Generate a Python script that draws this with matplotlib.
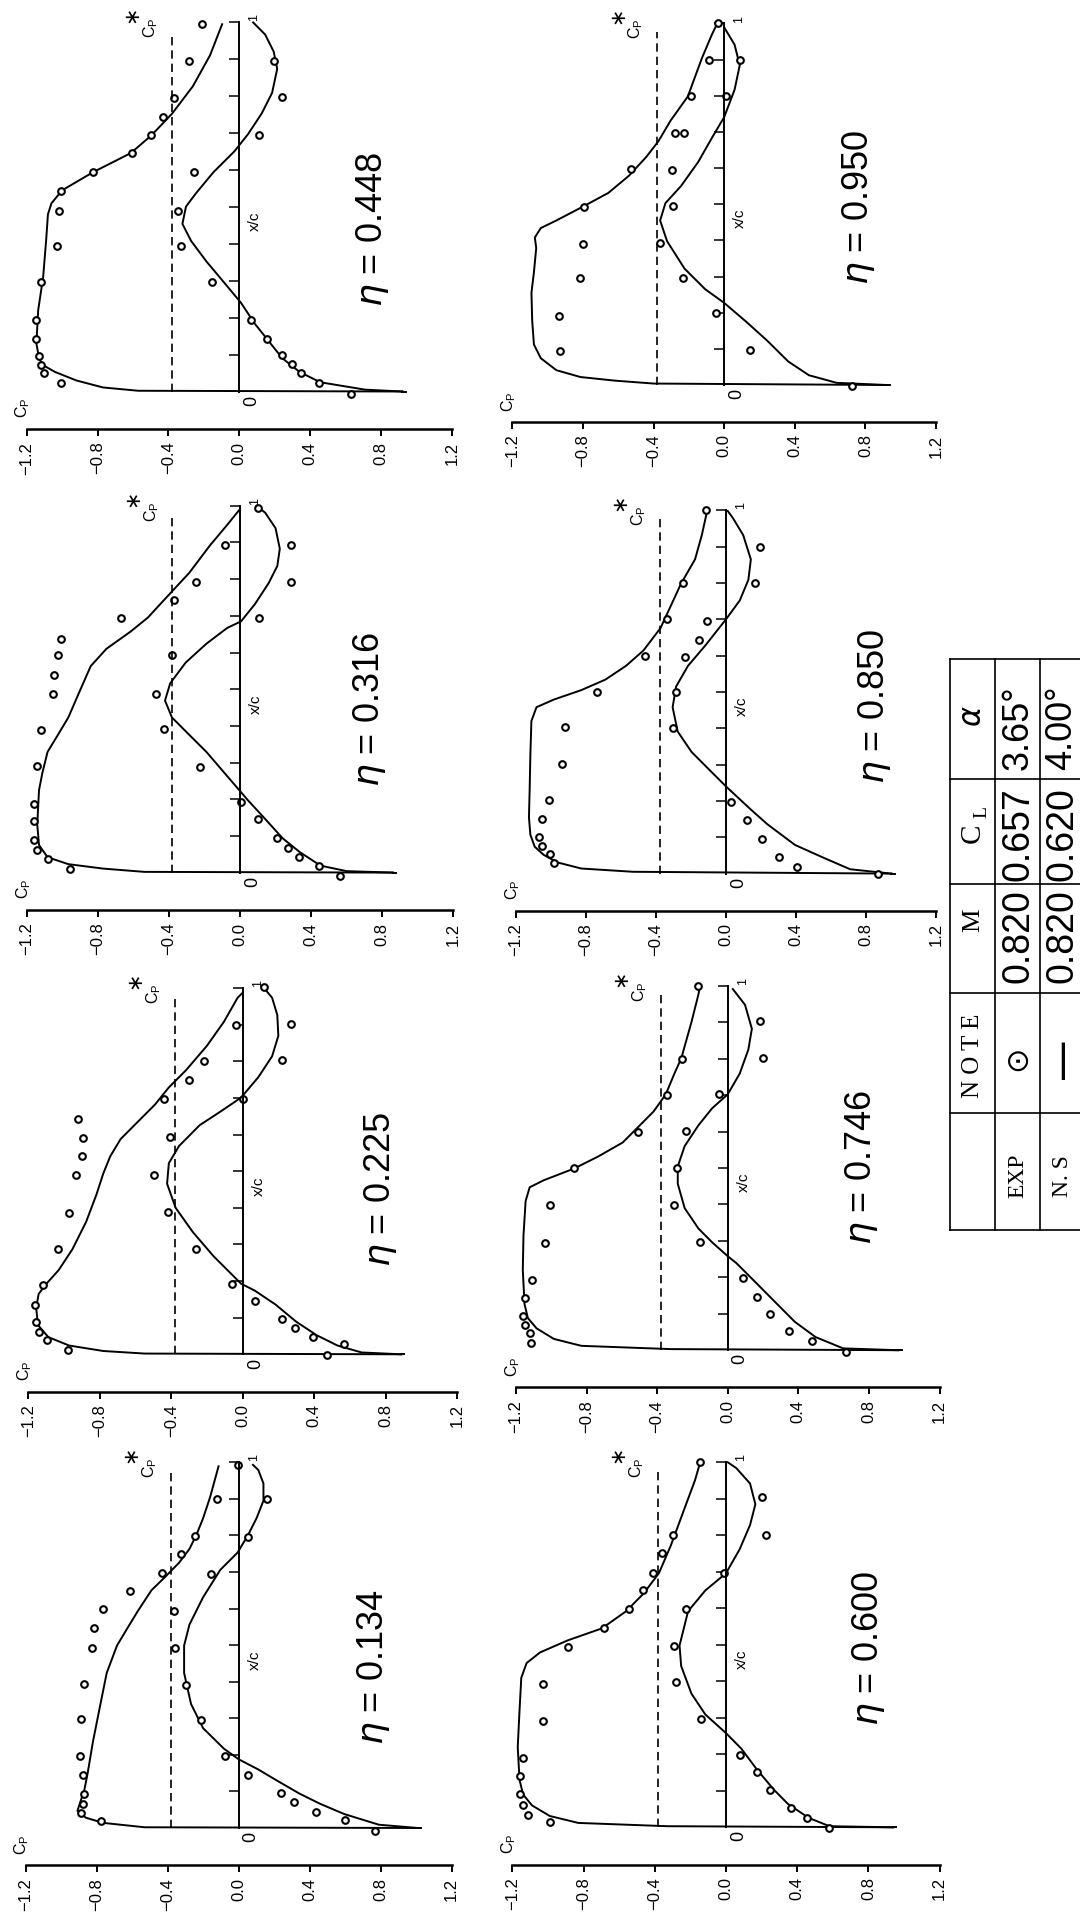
import matplotlib
matplotlib.use("Agg")
import matplotlib.pyplot as plt

plt.rcParams['font.family'] = ['Liberation Sans', 'DejaVu Sans']
plt.rcParams['mathtext.fontset'] = 'dejavusans'

# ---------------------------------------------------------------------------
# data: Cp distributions, x/c (chord fraction) vs Cp, one block per station eta
# u = upper surface curve (N.S), l = lower surface curve, mu / ml = EXP points
# ---------------------------------------------------------------------------
CP_STAR = -0.38
CP_TICKS = [-1.2, -0.8, -0.4, 0.0, 0.4, 0.8, 1.2]
CP_TICKLABELS = ['\u22121.2', '\u22120.8', '\u22120.4', '0.0', '0.4', '0.8', '1.2']
XC_TICKS = [0.1, 0.2, 0.3, 0.4, 0.5, 0.6, 0.7, 0.8, 0.9, 1.0]

# eta = 0.134
u134_xc = [0, 0.002, 0.014, 0.028, 0.047, 0.075, 0.104, 0.151, 0.235, 0.330, 0.424, 0.499, 0.546,
           0.593, 0.650, 0.687, 0.725, 0.763, 0.800, 0.847, 0.904, 0.989]
u134_cp = [1.01, -0.53, -0.763, -0.86, -0.908, -0.889, -0.869, -0.85, -0.821, -0.782, -0.743, -0.685,
           -0.627, -0.568, -0.491, -0.413, -0.336, -0.277, -0.239, -0.2, -0.161, -0.113]
l134_xc = [0, 0.009, 0.038, 0.066, 0.094, 0.132, 0.160, 0.188, 0.217, 0.273, 0.339, 0.424, 0.499,
           0.556, 0.631, 0.706, 0.753, 0.800, 0.847, 0.895, 0.942, 0.979, 0.993]
l134_cp = [1.01, 0.79, 0.596, 0.46, 0.343, 0.208, 0.111, 0.0, -0.083, -0.2, -0.268, -0.307, -0.307,
           -0.277, -0.2, -0.103, -0.006, 0.052, 0.101, 0.14, 0.14, 0.111, 0.081]
mu134_xc = [0.019, 0.042, 0.066, 0.094, 0.146, 0.198, 0.297, 0.395, 0.492, 0.546, 0.598, 0.648,
            0.697, 0.749, 0.798, 0.899, 0.993]
mu134_cp = [-0.776, -0.889, -0.879, -0.869, -0.879, -0.894, -0.889, -0.869, -0.825, -0.817, -0.766,
            -0.611, -0.433, -0.326, -0.248, -0.122, -0.006]
ml134_xc = [-0.009, 0.021, 0.044, 0.071, 0.096, 0.146, 0.196, 0.294, 0.391, 0.492, 0.593, 0.695,
            0.796, 0.899]
ml134_cp = [0.766, 0.601, 0.437, 0.314, 0.237, 0.052, -0.074, -0.21, -0.297, -0.359, -0.365, -0.157,
            0.052, 0.159]

# eta = 0.225
u225_xc = [0, 0.002, 0.009, 0.024, 0.047, 0.080, 0.127, 0.165, 0.193, 0.230, 0.287, 0.362, 0.437,
           0.494, 0.541, 0.588, 0.635, 0.682, 0.729, 0.776, 0.842, 0.908, 0.974, 0.988]
u225_cp = [0.887, -0.549, -0.781, -0.973, -1.089, -1.147, -1.157, -1.143, -1.099, -1.031, -0.954,
           -0.877, -0.819, -0.781, -0.742, -0.684, -0.588, -0.492, -0.414, -0.318, -0.202, -0.106,
           -0.029, 0.0]
l225_xc = [0, 0.005, 0.024, 0.052, 0.089, 0.136, 0.174, 0.193, 0.268, 0.334, 0.400, 0.466, 0.522,
           0.569, 0.626, 0.663, 0.701, 0.757, 0.814, 0.870, 0.927, 0.974, 1.002]
l225_cp = [0.887, 0.665, 0.53, 0.414, 0.299, 0.183, 0.067, -0.01, -0.164, -0.28, -0.376, -0.424,
           -0.414, -0.357, -0.241, -0.125, -0.01, 0.087, 0.164, 0.199, 0.193, 0.164, 0.116]
mu225_xc = [0.011, 0.038, 0.061, 0.087, 0.136, 0.188, 0.287, 0.386, 0.489, 0.541, 0.590, 0.644,
            0.696, 0.748, 0.800, 0.900]
mu225_cp = [-0.977, -1.099, -1.143, -1.157, -1.166, -1.118, -1.035, -0.973, -0.935, -0.9, -0.896,
            -0.92, -0.443, -0.299, -0.218, -0.039]
ml225_xc = [-0.003, 0.028, 0.047, 0.072, 0.096, 0.146, 0.193, 0.287, 0.389, 0.489, 0.593, 0.696,
            0.804, 0.903, 1.002]
ml225_cp = [0.472, 0.569, 0.391, 0.295, 0.218, 0.067, -0.058, -0.264, -0.418, -0.495, -0.405, 0.0,
            0.218, 0.27, 0.116]

# eta = 0.316
u316_xc = [0, 0.002, 0.011, 0.023, 0.042, 0.075, 0.131, 0.225, 0.272, 0.329, 0.376, 0.423, 0.488,
           0.563, 0.610, 0.657, 0.695, 0.746, 0.817, 0.892, 0.948, 0.991]
u316_cp = [0.86, -0.538, -0.772, -0.966, -1.083, -1.131, -1.141, -1.131, -1.112, -1.083, -1.024,
           -0.966, -0.908, -0.84, -0.752, -0.616, -0.519, -0.422, -0.286, -0.169, -0.072, 0.0]
l316_xc = [0, 0.004, 0.019, 0.056, 0.094, 0.146, 0.197, 0.263, 0.329, 0.385, 0.423, 0.469, 0.516,
           0.573, 0.624, 0.667, 0.685, 0.732, 0.789, 0.836, 0.883, 0.939, 0.981, 1.0]
l316_cp = [0.86, 0.6, 0.453, 0.336, 0.239, 0.142, 0.045, -0.072, -0.189, -0.305, -0.383, -0.422,
           -0.393, -0.305, -0.189, -0.072, 0.006, 0.084, 0.161, 0.21, 0.224, 0.2, 0.142, 0.093]
mu316_xc = [0.009, 0.038, 0.061, 0.089, 0.141, 0.188, 0.291, 0.390, 0.488, 0.540, 0.592, 0.638,
            0.693, 0.742, 0.793, 0.894]
mu316_cp = [-0.956, -1.083, -1.145, -1.16, -1.16, -1.16, -1.145, -1.121, -1.053, -1.044, -1.024,
            -1.005, -0.671, -0.373, -0.247, -0.082]
ml316_xc = [-0.009, 0.017, 0.042, 0.066, 0.094, 0.146, 0.192, 0.289, 0.392, 0.488, 0.592, 0.693,
            0.793, 0.894, 0.993]
ml316_cp = [0.56, 0.443, 0.332, 0.268, 0.21, 0.103, 0.006, -0.227, -0.426, -0.47, -0.383, 0.107,
            0.288, 0.288, 0.103]

# eta = 0.448
u448_xc = [0, 0.002, 0.011, 0.030, 0.053, 0.072, 0.090, 0.130, 0.220, 0.310, 0.410, 0.480, 0.510,
           0.545, 0.594, 0.646, 0.694, 0.753, 0.827, 0.911, 0.995]
u448_cp = [0.92, -0.57, -0.77, -0.92, -1.04, -1.11, -1.13, -1.145, -1.135, -1.107, -1.09, -1.08,
           -1.06, -1.0, -0.826, -0.612, -0.496, -0.379, -0.262, -0.165, -0.097]
l448_xc = [0, 0.005, 0.025, 0.053, 0.090, 0.137, 0.184, 0.240, 0.296, 0.352, 0.408, 0.454, 0.501,
           0.538, 0.594, 0.650, 0.697, 0.753, 0.809, 0.874, 0.921, 0.967, 1.0]
l448_cp = [0.92, 0.71, 0.457, 0.34, 0.243, 0.165, 0.087, 0.01, -0.087, -0.185, -0.272, -0.321,
           -0.301, -0.243, -0.146, -0.029, 0.049, 0.126, 0.185, 0.214, 0.194, 0.146, 0.078]
mu448_xc = [0.023, 0.051, 0.072, 0.097, 0.142, 0.193, 0.296, 0.394, 0.490, 0.543, 0.594, 0.646,
            0.694, 0.743, 0.795, 0.895, 0.997]
mu448_cp = [-1.005, -1.102, -1.121, -1.133, -1.147, -1.147, -1.118, -1.03, -1.015, -1.005, -0.826,
            -0.608, -0.496, -0.428, -0.369, -0.282, -0.208]
ml448_xc = [-0.006, 0.023, 0.049, 0.074, 0.100, 0.142, 0.193, 0.296, 0.394, 0.490, 0.596, 0.694,
            0.797, 0.895]
ml448_cp = [0.632, 0.447, 0.35, 0.297, 0.243, 0.155, 0.068, -0.155, -0.33, -0.344, -0.258, 0.111,
            0.243, 0.198]

# eta = 0.600
u600_xc = [0, 0.003, 0.012, 0.031, 0.060, 0.090, 0.130, 0.220, 0.320, 0.410, 0.450, 0.479, 0.512,
           0.545, 0.592, 0.640, 0.696, 0.772, 0.875, 0.951, 1.0]
u600_cp = [0.939, -0.33, -0.83, -0.99, -1.09, -1.14, -1.16, -1.17, -1.16, -1.15, -1.12, -1.045,
           -0.89, -0.697, -0.561, -0.464, -0.377, -0.31, -0.232, -0.174, -0.145]
l600_xc = [0, 0.003, 0.026, 0.064, 0.102, 0.158, 0.215, 0.258, 0.309, 0.366, 0.442, 0.498, 0.592,
           0.649, 0.696, 0.762, 0.828, 0.885, 0.942, 0.984, 1.0]
l600_cp = [0.939, 0.581, 0.464, 0.348, 0.271, 0.174, 0.087, 0.0, -0.116, -0.194, -0.252, -0.261,
           -0.213, -0.116, 0.0, 0.077, 0.135, 0.165, 0.135, 0.058, 0.01]
mu600_xc = [0.014, 0.035, 0.060, 0.090, 0.140, 0.190, 0.292, 0.392, 0.493, 0.545, 0.597, 0.649,
            0.698, 0.751, 0.800, 1.0]
mu600_cp = [-0.987, -1.11, -1.14, -1.16, -1.16, -1.14, -1.03, -1.026, -0.89, -0.687, -0.546, -0.464,
            -0.41, -0.358, -0.3, -0.145]
ml600_xc = [-0.002, 0.026, 0.053, 0.102, 0.151, 0.198, 0.298, 0.399, 0.496, 0.597, 0.698, 0.802,
            0.904]
ml600_cp = [0.581, 0.455, 0.364, 0.248, 0.174, 0.081, -0.139, -0.281, -0.29, -0.223, -0.01, 0.223,
            0.203]

# eta = 0.746
u746_xc = [0, 0.003, 0.012, 0.031, 0.060, 0.088, 0.126, 0.220, 0.315, 0.409, 0.447, 0.466, 0.499,
           0.532, 0.570, 0.617, 0.655, 0.702, 0.759, 0.801, 0.901, 0.976, 1.0]
u746_cp = [0.966, -0.322, -0.829, -0.985, -1.083, -1.132, -1.151, -1.161, -1.157, -1.145, -1.122,
           -1.044, -0.868, -0.732, -0.595, -0.498, -0.42, -0.351, -0.302, -0.263, -0.205, -0.166,
           -0.156]
l746_xc = [0, 0.005, 0.036, 0.078, 0.135, 0.192, 0.239, 0.258, 0.296, 0.334, 0.390, 0.457, 0.504,
           0.560, 0.617, 0.664, 0.702, 0.759, 0.825, 0.882, 0.948, 0.991]
l746_cp = [0.966, 0.654, 0.498, 0.38, 0.263, 0.146, 0.049, 0.0, -0.088, -0.166, -0.244, -0.283,
           -0.283, -0.244, -0.166, -0.088, 0.0, 0.068, 0.117, 0.137, 0.098, 0.029]
mu746_xc = [0.020, 0.046, 0.069, 0.095, 0.142, 0.194, 0.294, 0.398, 0.499, 0.600, 0.700, 0.800, 1.0]
mu746_cp = [-1.112, -1.122, -1.151, -1.161, -1.151, -1.106, -1.034, -1.009, -0.868, -0.507, -0.345,
            -0.26, -0.17]
ml746_xc = [-0.005, 0.026, 0.052, 0.099, 0.147, 0.197, 0.298, 0.398, 0.499, 0.601, 0.702, 0.802,
            0.903]
ml746_cp = [0.669, 0.478, 0.345, 0.24, 0.166, 0.084, -0.156, -0.302, -0.287, -0.234, -0.049, 0.201,
            0.181]

# eta = 0.850
u850_xc = [0, 0.005, 0.014, 0.031, 0.052, 0.074, 0.107, 0.155, 0.230, 0.325, 0.420, 0.458, 0.479,
           0.505, 0.534, 0.572, 0.614, 0.676, 0.799, 0.865, 0.932, 0.998]
u850_cp = [0.945, -0.531, -0.827, -0.965, -1.043, -1.093, -1.118, -1.126, -1.122, -1.118, -1.112,
           -1.083, -0.984, -0.827, -0.689, -0.571, -0.472, -0.374, -0.256, -0.177, -0.138, -0.108]
l850_xc = [0, 0.012, 0.045, 0.079, 0.136, 0.178, 0.240, 0.287, 0.335, 0.391, 0.458, 0.515, 0.572,
           0.628, 0.700, 0.752, 0.809, 0.865, 0.932, 0.979, 0.998]
l850_cp = [0.945, 0.709, 0.551, 0.394, 0.236, 0.138, 0.0, -0.098, -0.197, -0.276, -0.305, -0.285,
           -0.217, -0.118, 0.0, 0.079, 0.128, 0.142, 0.098, 0.039, 0.01]
mu850_xc = [0.029, 0.055, 0.077, 0.102, 0.150, 0.202, 0.301, 0.403, 0.500, 0.600, 0.700, 0.799, 1.0]
mu850_cp = [-0.984, -1.004, -1.053, -1.067, -1.053, -1.014, -0.935, -0.921, -0.738, -0.463, -0.339,
            -0.246, -0.112]
ml850_xc = [0.0, 0.019, 0.047, 0.095, 0.147, 0.197, 0.401, 0.500, 0.595, 0.643, 0.695, 0.799, 0.899]
ml850_cp = [0.866, 0.404, 0.301, 0.203, 0.118, 0.03, -0.305, -0.285, -0.236, -0.157, -0.108, 0.167,
            0.197]

# eta = 0.950
u950_xc = [0, 0.004, 0.012, 0.022, 0.041, 0.074, 0.112, 0.179, 0.255, 0.312, 0.379, 0.408, 0.434,
           0.455, 0.495, 0.531, 0.579, 0.631, 0.674, 0.731, 0.798, 0.903, 0.970, 1.0]
u950_cp = [0.92, -0.4, -0.618, -0.814, -0.951, -1.039, -1.078, -1.088, -1.092, -1.078, -1.065,
           -1.073, -1.039, -0.951, -0.794, -0.657, -0.539, -0.441, -0.373, -0.304, -0.206, -0.127,
           -0.069, -0.039]
l950_xc = [0, 0.006, 0.027, 0.065, 0.122, 0.174, 0.227, 0.265, 0.322, 0.398, 0.455, 0.503, 0.550,
           0.617, 0.684, 0.741, 0.817, 0.884, 0.941, 0.989]
l950_cp = [0.92, 0.637, 0.48, 0.363, 0.245, 0.127, 0.0, -0.108, -0.225, -0.324, -0.363, -0.333,
           -0.245, -0.147, -0.069, 0.0, 0.059, 0.088, 0.059, 0.0]
mu950_xc = [0.093, 0.190, 0.295, 0.390, 0.493, 0.598, 0.698, 0.798, 0.900, 1.0]
mu950_cp = [-0.931, -0.935, -0.818, -0.798, -0.794, -0.529, -0.28, -0.186, -0.084, -0.035]
ml950_xc = [-0.002, 0.098, 0.200, 0.295, 0.393, 0.495, 0.595, 0.696, 0.798, 0.900]
ml950_cp = [0.725, 0.147, -0.049, -0.235, -0.363, -0.288, -0.294, -0.225, 0.01, 0.092]

# table of test conditions
TAB_ROWS = ['', 'EXP', 'N. S']
TAB_NOTE = ['N O T E', '\u2299', '\u2014']
TAB_M = ['M', '0.820', '0.820']
TAB_CL = ['C', '0.657', '0.620']
TAB_ALPHA = [r'$\alpha$', '3.65\u00b0', '4.00\u00b0']

PANELS = {
    '0.134': (u134_xc, u134_cp, l134_xc, l134_cp, mu134_xc, mu134_cp, ml134_xc, ml134_cp),
    '0.225': (u225_xc, u225_cp, l225_xc, l225_cp, mu225_xc, mu225_cp, ml225_xc, ml225_cp),
    '0.316': (u316_xc, u316_cp, l316_xc, l316_cp, mu316_xc, mu316_cp, ml316_xc, ml316_cp),
    '0.448': (u448_xc, u448_cp, l448_xc, l448_cp, mu448_xc, mu448_cp, ml448_xc, ml448_cp),
    '0.600': (u600_xc, u600_cp, l600_xc, l600_cp, mu600_xc, mu600_cp, ml600_xc, ml600_cp),
    '0.746': (u746_xc, u746_cp, l746_xc, l746_cp, mu746_xc, mu746_cp, ml746_xc, ml746_cp),
    '0.850': (u850_xc, u850_cp, l850_xc, l850_cp, mu850_xc, mu850_cp, ml850_xc, ml850_cp),
    '0.950': (u950_xc, u950_cp, l950_xc, l950_cp, mu950_xc, mu950_cp, ml950_xc, ml950_cp),
}

# ---------------------------------------------------------------------------
# layout (page is printed sideways): pixel x of Cp=0, pixel y of x/c=0 and x/c=1,
# pixels per unit Cp, and where the eta label sits (Cp, x/c)
# ---------------------------------------------------------------------------
W, H = 1080, 1912
LAYOUT = {
    '0.448': (239.3, 391.5, 22.4, 177.2, 0.75, 0.44),
    '0.316': (240.0, 872.6, 505.8, 177.7, 0.73, 0.445),
    '0.225': (242.8, 1354.3, 988.2, 178.6, 0.77, 0.45),
    '0.134': (238.6, 1828.0, 1462.3, 177.5, 0.76, 0.44),
    '0.950': (724.2, 385.0, 23.4, 176.5, 0.76, 0.49),
    '0.850': (726.0, 873.6, 510.3, 175.0, 0.85, 0.46),
    '0.746': (727.7, 1350.2, 985.8, 176.5, 0.76, 0.50),
    '0.600': (726.0, 1827.3, 1462.3, 178.0, 0.80, 0.49),
}
XLIM = (-1.45, 1.5)
YLIM = (-0.30, 1.08)

fig = plt.figure(figsize=(W / 100, H / 100), dpi=100)
fig.patch.set_facecolor('white')


def draw_panel(eta):
    cx, y0, y1, s, lx, ly = LAYOUT[eta]
    ch = y0 - y1
    left = cx + XLIM[0] * s
    right = cx + XLIM[1] * s
    top = y0 - YLIM[1] * ch
    bot = y0 - YLIM[0] * ch
    ax = fig.add_axes([left / W, 1 - bot / H, (right - left) / W, (bot - top) / H])
    ax.set_xlim(XLIM)
    ax.set_ylim(YLIM)
    ax.set_facecolor('none')

    for sp in ('top', 'right'):
        ax.spines[sp].set_visible(False)
    ax.spines['bottom'].set_position(('data', -0.102))
    ax.spines['bottom'].set_bounds(-1.2, 1.2)
    ax.spines['bottom'].set_linewidth(1.8)
    ax.spines['left'].set_position(('data', 0.0))
    ax.spines['left'].set_bounds(0, 1)
    ax.spines['left'].set_linewidth(1.4)

    ax.set_xticks(CP_TICKS)
    ax.set_xticklabels(CP_TICKLABELS, rotation=90, fontsize=12)
    ax.tick_params(axis='x', direction='out', length=5, width=1.4, pad=4)
    ax.set_yticks(XC_TICKS)
    ax.set_yticklabels([])
    ax.tick_params(axis='y', direction='out', length=7, width=1.1)

    uxc, ucp, lxc, lcp, muxc, mucp, mlxc, mlcp = PANELS[eta]
    ax.plot(ucp, uxc, color='black', lw=1.4, clip_on=False)
    ax.plot(lcp, lxc, color='black', lw=1.4, clip_on=False)
    ax.plot([ucp[0], 1.02 * ucp[0]], [0, 0], color='black', lw=1.4, clip_on=False)
    for mxc, mcp in ((muxc, mucp), (mlxc, mlcp)):
        ax.plot(mcp, mxc, 'o', ms=4.8, mfc='white', mec='black', mew=1.5, clip_on=False)

    ax.plot([CP_STAR, CP_STAR], [0, 0.975], color='black', lw=1.2, ls=(0, (5, 3)))

    ax.text(-1.22, -0.045, r'$\mathregular{C_P}$', rotation=90, ha='center', va='center',
            fontsize=11.5)
    ax.text(0.07, -0.025, '0', rotation=90, ha='center', va='center', fontsize=13)
    ax.text(0.085, 1.012, '1', rotation=90, ha='center', va='center', fontsize=9)
    ax.text(0.09, 0.46, 'x/c', rotation=90, ha='center', va='center', fontsize=11)
    ax.text(CP_STAR - 0.12, 0.985, r'$\mathregular{C_P}$', rotation=90, ha='center',
            va='center', fontsize=11.5)
    ax.text(CP_STAR - 0.21, 1.012, r'$\ast$', rotation=90, ha='center', va='center',
            fontsize=15, fontweight='bold')
    ax.text(lx, ly, r'$\eta$ = ' + eta, rotation=90, ha='center', va='center', fontsize=26)


for eta in PANELS:
    draw_panel(eta)

# ---------------------------------------------------------------------------
# condition table, also printed sideways
# ---------------------------------------------------------------------------
tab = fig.add_axes([0, 0, 1, 1])
tab.set_xlim(0, W)
tab.set_ylim(H, 0)
tab.axis('off')

col_x = [950, 995, 1040, 1090]
row_y = [659, 779, 884, 993, 1113, 1230]
for y in row_y:
    tab.plot([col_x[0], col_x[-1]], [y, y], color='black', lw=1.2)
for x in col_x[:-1]:
    tab.plot([x, x], [row_y[0], row_y[-1]], color='black', lw=1.2)

serif = ['Liberation Serif', 'DejaVu Serif']
xc_col = [973, 1018, 1062]
for i in range(3):
    x = xc_col[i]
    if i == 0:
        tab.text(x, 716, TAB_ALPHA[i], rotation=90, ha='center', va='center', fontsize=22)
        tab.text(x, 833, TAB_CL[i], rotation=90, ha='center', va='center', fontsize=21,
                 family=serif)
        tab.text(x + 9, 812, 'L', rotation=90, ha='center', va='center', fontsize=14,
                 family=serif)
        tab.text(x, 920, TAB_M[i], rotation=90, ha='center', va='center', fontsize=19,
                 family=serif)
        tab.text(x, 1056, TAB_NOTE[i], rotation=90, ha='center', va='center', fontsize=18,
                 family=serif)
    else:
        tab.text(x, 728, TAB_ALPHA[i], rotation=90, ha='center', va='center', fontsize=26)
        tab.text(x, 834, TAB_CL[i], rotation=90, ha='center', va='center', fontsize=27)
        tab.text(x, 936, TAB_M[i], rotation=90, ha='center', va='center', fontsize=27)
        nf = 22 if i == 1 else 30
        tab.text(x, 1058, TAB_NOTE[i], rotation=90, ha='center', va='center', fontsize=nf,
                 family=['DejaVu Sans'])
        tab.text(x, 1176, TAB_ROWS[i], rotation=90, ha='center', va='center', fontsize=17,
                 family=serif)

fig.savefig('out.png', dpi=100, facecolor='white')
